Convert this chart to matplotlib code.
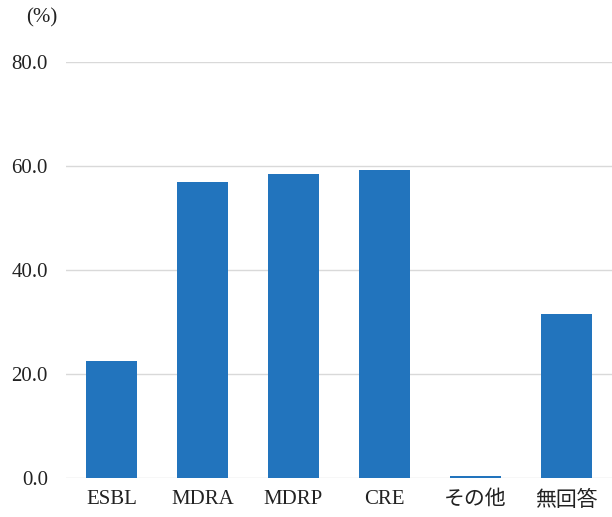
import matplotlib
matplotlib.use("Agg")
import matplotlib.pyplot as plt

plt.rcParams['font.family'] = ['Liberation Serif', 'Noto Sans CJK JP']

categories = ["ESBL", "MDRA", "MDRP", "CRE", "その他", "無回答"]
values = [22.5, 56.9, 58.5, 59.2, 0.4, 31.5]
yticks = [0, 20, 40, 60, 80]

fig = plt.figure(figsize=(6.12, 5.17), dpi=100)
ax = fig.add_axes([66 / 612, 1 - 478 / 517, 546 / 612, 416 / 517])

ax.bar(range(len(categories)), values, width=0.55, color="#2274BD", zorder=3)

ax.set_xlim(-0.5, len(categories) - 0.5)
ax.set_ylim(0, 80)
ax.set_yticks(yticks)
ax.set_yticklabels([f"{v:.1f}" for v in yticks], fontsize=15, color="#222222")
ax.set_xticks(range(len(categories)))
ax.set_xticklabels(categories, fontsize=15, color="#222222")
ax.tick_params(axis="both", length=0)
ax.tick_params(axis="y", pad=13)
ax.tick_params(axis="x", pad=9)
ax.grid(axis="y", color="#d9d9d9", linewidth=1, zorder=0)
for s in ax.spines.values():
    s.set_visible(False)

fig.text(42 / 612, 1 - 18 / 517, "(%)", fontsize=15, ha="center", va="center", color="#222222")

fig.savefig("out.png", dpi=100)
